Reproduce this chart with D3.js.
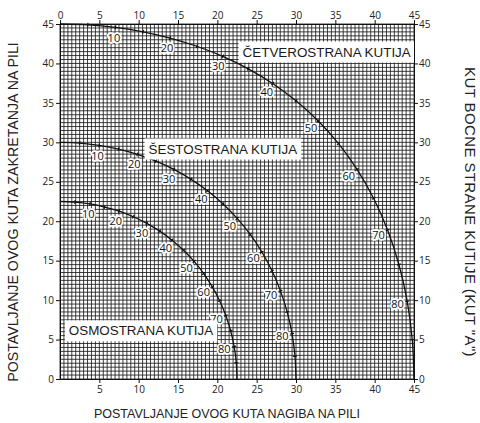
<!DOCTYPE html>
<html>
<head>
<meta charset="utf-8">
<script src="https://cdn.jsdelivr.net/npm/d3@7"></script>
<style>
  html, body { margin: 0; padding: 0; background: #fff; }
  svg { display: block; }
</style>
</head>
<body>
<svg id="chart" width="480" height="423"></svg>
<script>
// Side angle of the box (angle "A"), one reading every 5 degrees
const sideAngles = [0, 5, 10, 15, 20, 25, 30, 35, 40, 45, 50, 55, 60, 65, 70, 75, 80, 85, 90];
// Side angles that carry a printed number on each curve
const labelAngles = [10, 20, 30, 40, 50, 60, 70, 80];

// Four-sided box: saw tilt (x) and miter (y) settings
const fourBevel = [0, 3.53, 7.05, 10.55, 13.99, 17.39, 20.70, 23.93, 27.03, 30.00, 32.80, 35.41, 37.76, 39.86, 41.64, 43.08, 44.14, 44.78, 45];
const fourMiter = [45, 44.89, 44.56, 44.01, 43.22, 42.18, 40.89, 39.32, 37.46, 35.26, 32.74, 29.84, 26.57, 22.91, 18.88, 14.51, 9.85, 4.98, 0];

// Six-sided box
const sixBevel = [0, 2.50, 4.98, 7.44, 9.85, 12.20, 14.48, 16.67, 18.75, 20.70, 22.52, 24.18, 25.66, 26.95, 28.02, 28.88, 29.50, 29.87, 30];
const sixMiter = [30, 29.91, 29.62, 29.15, 28.48, 27.62, 26.57, 25.31, 23.86, 22.21, 20.36, 18.32, 16.10, 13.71, 11.17, 8.50, 5.73, 2.88, 0];

// Eight-sided box
const eightBevel = [0, 1.91, 3.81, 5.68, 7.52, 9.31, 11.03, 12.68, 14.24, 15.70, 17.05, 18.27, 19.35, 20.29, 21.08, 21.69, 22.14, 22.41, 22.5];
const eightMiter = [22.5, 22.42, 22.19, 21.80, 21.27, 20.57, 19.73, 18.74, 17.60, 16.32, 14.91, 13.37, 11.70, 9.93, 8.06, 6.12, 4.11, 2.07, 0];

const boxNames = ["ČETVEROSTRANA KUTIJA", "ŠESTOSTRANA KUTIJA", "OSMOSTRANA KUTIJA"];
const axisTicks = [0, 5, 10, 15, 20, 25, 30, 35, 40, 45];
const bottomTicks = [5, 10, 15, 20, 25, 30, 35, 40, 45];

const titleLeft = "POSTAVLJANJE OVOG KUTA ZAKRETANJA NA PILI";
const titleBottom = "POSTAVLJANJE OVOG KUTA NAGIBA NA PILI";
const titleRight = "KUT BOCNE STRANE KUTIJE (KUT \"A\")";

const svg = d3.select("#chart");
const plot = { left: 60, right: 414, top: 24, bottom: 379 };

const x = d3.scaleLinear().domain([0, 45]).range([plot.left, plot.right]);
const y = d3.scaleLinear().domain([0, 45]).range([plot.bottom, plot.top]);

const textFont = "'Liberation Sans', Arial, sans-serif";
const tickFont = "'Open Sans', 'Liberation Sans', sans-serif";

// Fine graph-paper grid, one line every half degree
const gridValues = d3.range(0, 45.01, 0.5);
const grid = svg.append("g").attr("class", "grid");
grid.selectAll("line.v").data(gridValues).join("line")
  .attr("class", "v")
  .attr("x1", d => x(d)).attr("x2", d => x(d))
  .attr("y1", y(0)).attr("y2", y(45))
  .attr("stroke", "#1c1c1c")
  .attr("stroke-width", 0.85);
grid.selectAll("line.h").data(gridValues).join("line")
  .attr("class", "h")
  .attr("y1", d => y(d)).attr("y2", d => y(d))
  .attr("x1", x(0)).attr("x2", x(45))
  .attr("stroke", "#1c1c1c")
  .attr("stroke-width", 0.85);

// Curves for the three box types
const series = [
  { bevel: fourBevel, miter: fourMiter },
  { bevel: sixBevel, miter: sixMiter },
  { bevel: eightBevel, miter: eightMiter }
];

const line = d3.line()
  .x(d => x(d.b))
  .y(d => y(d.m))
  .curve(d3.curveCatmullRom);

const origin = [x(0), y(0)];
const labelOffset = 10;

series.forEach(s => {
  const pts = sideAngles.map((a, i) => ({ a, b: s.bevel[i], m: s.miter[i] }));

  svg.append("path")
    .datum(pts)
    .attr("d", line)
    .attr("fill", "none")
    .attr("stroke", "#111")
    .attr("stroke-width", 1.3);

  // small radial ticks every 5 degrees of side angle
  const inner = pts.filter(p => p.a > 0 && p.a < 90);
  svg.append("g").selectAll("line").data(inner).join("line")
    .each(function (p) {
      const px = x(p.b), py = y(p.m);
      const dx = origin[0] - px, dy = origin[1] - py;
      const len = Math.hypot(dx, dy);
      const ux = dx / len, uy = dy / len;
      d3.select(this)
        .attr("x1", px - ux * 2).attr("y1", py - uy * 2)
        .attr("x2", px + ux * 2).attr("y2", py + uy * 2);
    })
    .attr("stroke", "#111")
    .attr("stroke-width", 1.2);

  // side-angle numbers just inside the curve
  const labelled = pts.filter(p => labelAngles.includes(p.a));
  svg.append("g").selectAll("text").data(labelled).join("text")
    .each(function (p) {
      const px = x(p.b), py = y(p.m);
      const dx = origin[0] - px, dy = origin[1] - py;
      const len = Math.hypot(dx, dy);
      d3.select(this)
        .attr("x", px + dx / len * labelOffset)
        .attr("y", py + dy / len * labelOffset);
    })
    .attr("text-anchor", "middle")
    .attr("dominant-baseline", "central")
    .attr("font-family", tickFont)
    .attr("font-size", 11)
    .attr("fill", "#111")
    .attr("stroke", "#fff")
    .attr("stroke-width", 3.5)
    .attr("stroke-linejoin", "round")
    .attr("paint-order", "stroke")
    .text(p => p.a);
});

// Box-type name plates
const plates = [
  { name: boxNames[0], cx: 33.9, cy: 41.45 },
  { name: boxNames[1], cx: 20.7, cy: 29.15 },
  { name: boxNames[2], cx: 10.3, cy: 6.1 }
];
plates.forEach(p => {
  const g = svg.append("g");
  const rect = g.append("rect").attr("fill", "#fff");
  const t = g.append("text")
    .attr("x", x(p.cx))
    .attr("y", y(p.cy))
    .attr("text-anchor", "middle")
    .attr("dominant-baseline", "central")
    .attr("font-family", textFont)
    .attr("font-size", 13.4)
    .attr("fill", "#1a1a1a")
    .text(p.name);
  const bb = t.node().getBBox();
  rect.attr("x", bb.x - 4).attr("y", bb.y - 3)
    .attr("width", bb.width + 8).attr("height", bb.height + 6);
});

// Axes on all four sides
function styleAxis(g) {
  g.selectAll("path.domain").attr("stroke", "#111").attr("stroke-width", 1);
  g.selectAll(".tick line").attr("stroke", "#111");
  g.selectAll("text")
    .attr("font-family", tickFont)
    .attr("font-size", 10)
    .attr("fill", "#222");
}

svg.append("g").attr("transform", `translate(${plot.left},0)`)
  .call(d3.axisLeft(y).tickValues(axisTicks).tickSize(4).tickPadding(2).tickSizeOuter(0))
  .call(styleAxis);
svg.append("g").attr("transform", `translate(${plot.right},0)`)
  .call(d3.axisRight(y).tickValues(axisTicks).tickSize(4).tickPadding(1).tickSizeOuter(0))
  .call(styleAxis);
svg.append("g").attr("transform", `translate(0,${plot.top})`)
  .call(d3.axisTop(x).tickValues(axisTicks).tickSize(4).tickPadding(1).tickSizeOuter(0))
  .call(styleAxis);
svg.append("g").attr("transform", `translate(0,${plot.bottom})`)
  .call(d3.axisBottom(x).tickValues(bottomTicks).tickSize(4).tickPadding(3).tickSizeOuter(0))
  .call(styleAxis);

// Axis titles
svg.append("text")
  .attr("transform", "translate(18,212) rotate(-90)")
  .attr("text-anchor", "middle")
  .attr("font-family", textFont)
  .attr("font-size", 14.2)
  .attr("fill", "#222")
  .text(titleLeft);

svg.append("text")
  .attr("x", 227).attr("y", 418)
  .attr("text-anchor", "middle")
  .attr("font-family", textFont)
  .attr("font-size", 12.5)
  .attr("fill", "#222")
  .text(titleBottom);

svg.append("text")
  .attr("transform", "translate(465,212) rotate(90)")
  .attr("text-anchor", "middle")
  .attr("font-family", textFont)
  .attr("font-size", 15)
  .attr("letter-spacing", 0.4)
  .attr("fill", "#222")
  .text(titleRight);
</script>
</body>
</html>
